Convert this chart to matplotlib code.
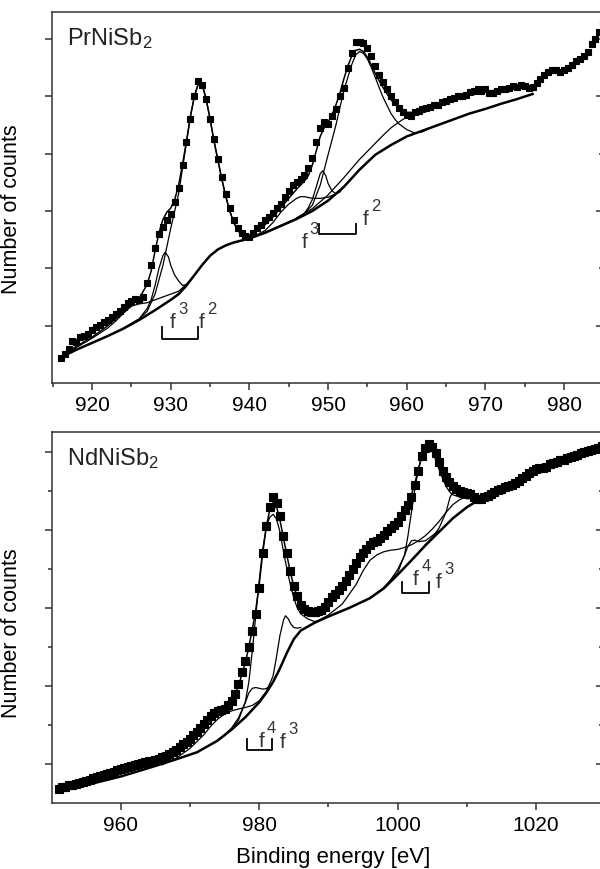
import numpy as np
import matplotlib
matplotlib.use("Agg")
import matplotlib.pyplot as plt
from matplotlib.ticker import MultipleLocator, FixedLocator

plt.rcParams['font.family'] = ['Liberation Sans', 'DejaVu Sans']
plt.rcParams['mathtext.default'] = 'regular'

# ---------------- PrNiSb2 (Pr 3d) ----------------
pr_start, pr_step = 916.0, 0.5
pr_counts = [0.44, 0.50, 0.60, 0.73, 0.72, 0.80, 0.82, 0.86, 0.92, 0.98,
             1.02, 1.06, 1.10, 1.15, 1.20, 1.26, 1.32, 1.40, 1.43, 1.46,
             1.45, 1.50, 1.75, 2.05, 2.35, 2.60, 2.72, 2.85, 2.95, 3.15,
             3.40, 3.80, 4.20, 4.60, 5.00, 5.27, 5.20, 4.95, 4.60, 4.25,
             3.90, 3.60, 3.30, 3.05, 2.85, 2.70, 2.62, 2.57, 2.55, 2.62,
             2.70, 2.75, 2.85, 2.90, 2.97, 3.05, 3.12, 3.25, 3.35, 3.45,
             3.50, 3.55, 3.62, 3.75, 3.92, 4.20, 4.45, 4.55, 4.52, 4.65,
             4.78, 5.00, 5.15, 5.50, 5.75, 5.95, 5.95, 5.93, 5.85, 5.70,
             5.53, 5.38, 5.25, 5.13, 5.00, 4.90, 4.80, 4.73, 4.68, 4.66,
             4.72, 4.75, 4.78, 4.80, 4.82, 4.85, 4.85, 4.90, 4.92, 4.95,
             4.97, 5.00, 5.00, 5.03, 5.07, 5.10, 5.12, 5.10, 5.13, 5.05,
             5.05, 5.10, 5.12, 5.13, 5.15, 5.18, 5.17, 5.20, 5.18, 5.15,
             5.16, 5.24, 5.30, 5.38, 5.43, 5.45, 5.45, 5.42, 5.45, 5.50,
             5.55, 5.62, 5.65, 5.70, 5.78, 5.92, 6.00, 6.12, 6.28]

pr_background = [(916.5, 0.48), (918, 0.58), (920, 0.70), (922, 0.82), (924, 0.95),
                 (926, 1.10), (928, 1.27), (930, 1.45), (931, 1.55), (932, 1.70),
                 (933, 1.88), (934, 2.06), (935, 2.22), (936, 2.33), (937, 2.40),
                 (938, 2.45), (940, 2.52), (942, 2.62), (944, 2.74), (946, 2.86),
                 (948, 3.00), (950, 3.18), (952, 3.42), (954, 3.72), (956, 3.98),
                 (958, 4.15), (960, 4.30), (962, 4.40), (964, 4.50), (966, 4.60),
                 (968, 4.70), (970, 4.78), (972, 4.87), (974, 4.95), (976, 5.04)]

pr_envelope = [(916.5, 0.50), (918, 0.64), (920, 0.80), (922, 1.00), (924, 1.24),
               (925, 1.36), (926, 1.48), (927, 1.72), (927.5, 1.95), (928, 2.30),
               (928.5, 2.62), (929, 2.85), (929.5, 2.98), (930, 3.05), (930.5, 3.20),
               (931, 3.45), (931.5, 3.82), (932, 4.22), (932.5, 4.65), (933, 5.00),
               (933.5, 5.22), (934, 5.20), (934.5, 4.95), (935, 4.60), (935.5, 4.22),
               (936, 3.88), (936.5, 3.55), (937, 3.25), (937.5, 3.00), (938, 2.80),
               (938.5, 2.67), (939, 2.60), (940, 2.58), (941, 2.65), (942, 2.76),
               (943, 2.90), (944, 3.06), (945, 3.22), (946, 3.38), (947, 3.52),
               (947.5, 3.62), (948, 3.80), (948.5, 4.05), (949, 4.30), (949.5, 4.45),
               (950, 4.55), (950.5, 4.68), (951, 4.85), (951.5, 5.05), (952, 5.30),
               (952.5, 5.52), (953, 5.70), (953.5, 5.80), (954, 5.82), (954.5, 5.78),
               (955, 5.68), (955.5, 5.55), (956, 5.40), (956.5, 5.27), (957, 5.15),
               (957.5, 5.04), (958, 4.94), (958.5, 4.86), (959, 4.80), (960, 4.72),
               (961, 4.72), (962, 4.76), (964, 4.84), (966, 4.93), (968, 5.02),
               (970, 5.08), (972, 5.12), (974, 5.15), (976, 5.14)]

pr_components = [
    [(917.5, 0.56), (918, 0.62), (920, 0.78), (922, 0.96), (923, 1.08), (924, 1.22),
     (925, 1.34), (926, 1.38), (927, 1.40), (928, 1.45), (929, 1.50), (930, 1.55),
     (931, 1.60), (932, 1.72), (933, 1.88)],
    [(925, 1.03), (926, 1.12), (927, 1.30), (927.5, 1.45), (928, 1.70), (928.5, 2.00),
     (929, 2.22), (929.3, 2.28), (929.7, 2.20), (930, 2.05), (930.5, 1.88), (931, 1.78),
     (931.5, 1.70), (932, 1.72), (933, 1.88)],
    [(924, 0.96), (926, 1.12), (927, 1.25), (928, 1.55), (929, 2.05), (930, 2.70),
     (931, 3.30), (931.5, 3.75), (932, 4.20), (932.5, 4.65), (933, 5.00), (933.5, 5.22),
     (934, 5.20), (934.5, 4.95), (935, 4.60), (935.5, 4.22), (936, 3.88), (936.5, 3.55),
     (937, 3.25), (937.5, 3.00), (938, 2.80), (938.5, 2.66), (939, 2.58), (940, 2.54),
     (941, 2.57), (942, 2.63), (944, 2.75), (946, 2.87)],
    [(940, 2.52), (942, 2.66), (943, 2.80), (944, 2.98), (945, 3.12), (946, 3.22),
     (946.5, 3.25), (947, 3.25), (948, 3.22), (949, 3.22), (950, 3.24), (951, 3.30),
     (952, 3.42)],
    [(945, 2.80), (946, 2.87), (947, 2.96), (947.5, 3.06), (948, 3.20), (948.5, 3.42),
     (949, 3.65), (949.3, 3.70), (949.7, 3.62), (950, 3.48), (950.5, 3.35), (951, 3.30),
     (951.5, 3.33), (952, 3.42)],
    [(944, 2.74), (946, 2.87), (947, 2.96), (948, 3.10), (949, 3.45), (950, 3.98),
     (951, 4.50), (952, 5.10), (953, 5.55), (953.5, 5.72), (954, 5.78), (954.5, 5.75),
     (955, 5.65), (955.5, 5.50), (956, 5.33), (956.5, 5.15), (957, 4.98), (957.5, 4.84),
     (958, 4.70), (958.5, 4.60), (959, 4.52), (960, 4.42), (961, 4.36), (962, 4.38),
     (963, 4.45)],
    [(946, 2.88), (948, 3.04), (950, 3.28), (952, 3.58), (954, 3.90), (956, 4.18),
     (957, 4.32), (958, 4.45), (959, 4.55), (960, 4.64), (961, 4.70), (962, 4.75),
     (964, 4.84), (966, 4.93), (968, 5.02), (970, 5.08), (972, 5.12), (974, 5.15),
     (976, 5.10)],
]

# (x of left f, x of right f, bracket bottom, bracket top, left label, right label)
pr_brackets = [
    (928.9, 933.4, 0.77, 0.98, (929.9, 0.98, '3'), (933.6, 0.98, '2')),
    (948.8, 953.6, 2.60, 2.77, (946.6, 2.37, '3'), (954.4, 2.77, '2')),
]

# ---------------- NdNiSb2 (Nd 3d) ----------------
nd_start, nd_step = 951.0, 0.5
nd_counts = [0.36, 0.40, 0.42, 0.45, 0.47, 0.48, 0.52, 0.55, 0.56, 0.60,
             0.63, 0.66, 0.68, 0.72, 0.74, 0.78, 0.80, 0.84, 0.87, 0.90,
             0.92, 0.95, 0.97, 1.00, 1.02, 1.05, 1.07, 1.08, 1.10, 1.13,
             1.17, 1.20, 1.25, 1.31, 1.37, 1.43, 1.50, 1.56, 1.65, 1.74,
             1.83, 1.92, 2.02, 2.12, 2.22, 2.30, 2.36, 2.38, 2.42, 2.50,
             2.62, 2.80, 3.05, 3.35, 3.65, 4.00, 4.40, 4.85, 5.50, 6.40,
             7.10, 7.60, 7.85, 7.70, 7.35, 6.85, 6.40, 5.95, 5.55, 5.30,
             5.08, 4.97, 4.92, 4.90, 4.90, 4.92, 4.95, 5.02, 5.15, 5.28,
             5.35, 5.45, 5.55, 5.70, 5.85, 6.00, 6.15, 6.30, 6.42, 6.52,
             6.62, 6.68, 6.72, 6.80, 6.88, 6.98, 7.05, 7.12, 7.20, 7.35,
             7.50, 7.65, 7.85, 8.15, 8.50, 8.90, 9.10, 9.20, 9.12, 8.98,
             8.75, 8.52, 8.35, 8.22, 8.12, 8.05, 8.00, 7.98, 7.95, 7.92,
             7.85, 7.80, 7.80, 7.85, 7.88, 7.92, 7.98, 8.02, 8.05, 8.10,
             8.12, 8.15, 8.20, 8.25, 8.32, 8.38, 8.45, 8.50, 8.55, 8.58,
             8.60, 8.62, 8.68, 8.72, 8.74, 8.78, 8.80, 8.85, 8.88, 8.90,
             8.92, 8.96, 9.00, 9.02, 9.05, 9.08, 9.10, 9.15]

nd_background = [(951.5, 0.38), (955, 0.46), (960, 0.68), (965, 0.95), (968, 1.12),
                 (971, 1.30), (974, 1.60), (976, 1.88), (978, 2.20), (980, 2.58),
                 (981, 2.82), (982, 3.10), (983, 3.45), (984, 3.85), (985, 4.20),
                 (986, 4.42), (988, 4.62), (990, 4.78), (993, 5.00), (996, 5.25),
                 (998, 5.50), (1000, 5.85), (1002, 6.22), (1004, 6.60), (1006, 6.95),
                 (1008, 7.30), (1010, 7.58), (1012, 7.80)]

nd_envelope = [(951.5, 0.40), (955, 0.58), (960, 0.86), (965, 1.10), (968, 1.35),
               (970, 1.62), (972, 2.00), (973, 2.20), (974, 2.35), (975, 2.45),
               (976, 2.62), (977, 3.00), (978, 3.60), (978.5, 4.00), (979, 4.45),
               (979.5, 4.95), (980, 5.60), (980.5, 6.40), (981, 7.05), (981.5, 7.50),
               (982, 7.70), (982.5, 7.60), (983, 7.25), (983.5, 6.80), (984, 6.35),
               (984.5, 5.92), (985, 5.55), (985.5, 5.28), (986, 5.08), (987, 4.92),
               (988, 4.90), (989, 4.95), (990, 5.12), (991, 5.33), (992, 5.55),
               (993, 5.82), (994, 6.12), (995, 6.40), (996, 6.60), (997, 6.72),
               (998, 6.88), (999, 7.04), (1000, 7.20), (1001, 7.48), (1001.5, 7.68),
               (1002, 7.90), (1002.5, 8.20), (1003, 8.55), (1003.5, 8.88), (1004, 9.05),
               (1004.5, 9.12), (1005, 9.05), (1005.5, 8.88), (1006, 8.68), (1006.5, 8.48),
               (1007, 8.30), (1007.5, 8.18), (1008, 8.10), (1009, 8.00), (1010, 7.93),
               (1011, 7.85), (1012, 7.82)]

nd_components = [
    [(966, 0.98), (968, 1.15), (970, 1.40), (972, 1.75), (973, 1.97), (974, 2.15),
     (975, 2.28), (976, 2.36), (977, 2.41), (978, 2.45), (979, 2.50), (980, 2.62),
     (981, 2.85), (982, 3.10)],
    [(974, 1.62), (975, 1.75), (976, 1.92), (977, 2.18), (978, 2.58), (978.5, 2.82),
     (979, 2.94), (979.5, 2.96), (980, 2.94), (980.5, 2.92), (981, 2.93), (981.5, 3.00),
     (982, 3.10)],
    [(975, 1.75), (976, 1.90), (977, 2.12), (978, 2.60), (978.5, 3.10), (979, 3.90),
     (979.5, 4.80), (980, 5.70), (980.5, 6.50), (981, 7.05), (981.5, 7.32), (982, 7.40),
     (982.5, 7.28), (983, 6.95), (983.5, 6.45), (984, 6.00), (984.5, 5.60), (985, 5.25),
     (985.5, 5.00), (986, 4.85), (987, 4.72), (988, 4.65), (989, 4.70)],
    [(980, 2.60), (981, 2.85), (982, 3.25), (982.5, 3.75), (983, 4.30), (983.5, 4.68),
     (983.8, 4.80), (984.2, 4.72), (984.6, 4.58), (985, 4.50), (985.5, 4.48), (986, 4.50)],
    [(988, 4.62), (990, 4.82), (992, 5.10), (994, 5.60), (995, 5.95), (996, 6.22),
     (997, 6.36), (998, 6.44), (999, 6.48), (1000, 6.50), (1001, 6.55), (1002, 6.62),
     (1003, 6.72), (1004, 6.85), (1005, 7.02), (1006, 7.22), (1007, 7.45), (1008, 7.65),
     (1009, 7.78), (1010, 7.85), (1011, 7.85)],
    [(996, 5.25), (998, 5.52), (999, 5.72), (1000, 5.98), (1001, 6.35), (1001.5, 6.58),
     (1002, 6.72), (1002.5, 6.74), (1003, 6.70), (1004, 6.72), (1005, 6.85), (1006, 6.98)],
    [(996, 5.25), (998, 5.52), (1000, 5.90), (1001, 6.35), (1001.5, 6.85), (1002, 7.45),
     (1002.5, 8.05), (1003, 8.55), (1003.5, 8.90), (1004, 9.05), (1004.5, 9.10), (1005, 9.00),
     (1005.5, 8.80), (1006, 8.55), (1006.5, 8.32), (1007, 8.12), (1007.5, 7.98), (1008, 7.90),
     (1009, 7.84), (1010, 7.82), (1011, 7.80)],
    [(1004, 6.62), (1005, 6.80), (1006, 7.05), (1007, 7.45), (1007.6, 7.85), (1008, 7.97),
     (1008.5, 7.92), (1009, 7.85), (1010, 7.80), (1011, 7.80)],
]

nd_brackets = [
    (978.3, 981.9, 1.36, 1.64, (979.9, 1.46, '4'), (983.0, 1.43, '3')),
    (1000.6, 1004.5, 5.38, 5.67, (1002.2, 5.62, '4'), (1005.5, 5.54, '3')),
]

spine_col = '#333333'
label_col = '#333333'


def draw_panel(ax, start, step, counts, background, envelope, components, brackets,
               title, xlim, ylim, xmajor, xminor, left_major, left_minor,
               right_major, right_minor, ms):
    x = start + step * np.arange(len(counts))
    ax.plot(x, counts, 's', color='black', ms=ms, mec='black', mew=0.8, zorder=2)
    for comp in components:
        cx, cy = zip(*comp)
        ax.plot(cx, cy, color='black', lw=0.9, zorder=3)
    ex, ey = zip(*envelope)
    ax.plot(ex, ey, color='black', lw=1.1, zorder=3)
    bx, by = zip(*background)
    ax.plot(bx, by, color='black', lw=1.8, zorder=3)

    for x0, x1, yb, yt, lab0, lab1 in brackets:
        ax.plot([x0, x0, x1, x1], [yt, yb, yb, yt], color='black', lw=1.3)
        for lx, ly, sup in (lab0, lab1):
            ax.text(lx, ly, 'f', fontsize=15, color=label_col,
                    ha='left', va='baseline')
            ax.annotate(sup, (lx, ly), xytext=(6, 10), textcoords='offset points',
                        fontsize=12, color=label_col, ha='left', va='baseline')

    ax.text(0.027, 0.93, title, transform=ax.transAxes, fontsize=17,
            va='center', ha='left', color='#222222')

    ax.set_xlim(*xlim)
    ax.set_ylim(*ylim)
    ax.xaxis.set_major_locator(MultipleLocator(xmajor))
    ax.xaxis.set_minor_locator(MultipleLocator(xminor))
    ax.yaxis.set_major_locator(FixedLocator(left_major))
    ax.yaxis.set_minor_locator(FixedLocator(left_minor))
    ax.tick_params(axis='x', which='both', direction='out', top=False,
                   labelsize=15, pad=4, width=1.1, color=spine_col)
    ax.tick_params(axis='x', which='major', length=5)
    ax.tick_params(axis='x', which='minor', length=3)
    ax.tick_params(axis='y', which='both', direction='out', right=False,
                   labelleft=False, width=1.1, color=spine_col)
    ax.tick_params(axis='y', which='major', length=5)
    ax.tick_params(axis='y', which='minor', length=3)
    for s in ax.spines.values():
        s.set_color(spine_col)
        s.set_linewidth(1.1)
    ax.spines['right'].set_visible(False)

    sec = ax.secondary_yaxis('right')
    sec.yaxis.set_major_locator(FixedLocator(right_major))
    sec.yaxis.set_minor_locator(FixedLocator(right_minor))
    sec.tick_params(axis='y', which='both', direction='in', labelright=False,
                    width=1.1, color=spine_col)
    sec.tick_params(axis='y', which='major', length=3.5)
    sec.tick_params(axis='y', which='minor', length=1.5)
    sec.spines['right'].set_visible(False)

    ax.set_ylabel('Number of counts', fontsize=15.5)


fig = plt.figure(figsize=(6, 8.7), dpi=100)
ax1 = fig.add_axes([52 / 600, 486 / 870, 549 / 600, 371 / 870])
ax2 = fig.add_axes([52 / 600, 66 / 870, 549 / 600, 371 / 870])

draw_panel(ax1, pr_start, pr_step, pr_counts, pr_background, pr_envelope,
           pr_components, pr_brackets, 'PrNiSb$_2$',
           (914.9, 984.7), (0, 6.47), 10, 5,
           [1, 2, 3, 4, 5, 6], [], [1, 3, 5], [2, 4, 6], 4.8)
draw_panel(ax2, nd_start, nd_step, nd_counts, nd_background, nd_envelope,
           nd_components, nd_brackets, 'NdNiSb$_2$',
           (950.05, 1029.4), (0, 9.51), 20, 10,
           [1, 3, 5, 7, 9], [2, 4, 6, 8], [1, 3, 5, 7, 9], [2, 4, 6, 8], 5.4)

ax1.yaxis.set_label_coords(-0.055, 0.47)
ax2.yaxis.set_label_coords(-0.055, 0.46)

fig.text(0.555, 1 - 858 / 870, 'Binding energy [eV]', fontsize=16,
         ha='center', va='center')

fig.savefig('out.png', dpi=100)
